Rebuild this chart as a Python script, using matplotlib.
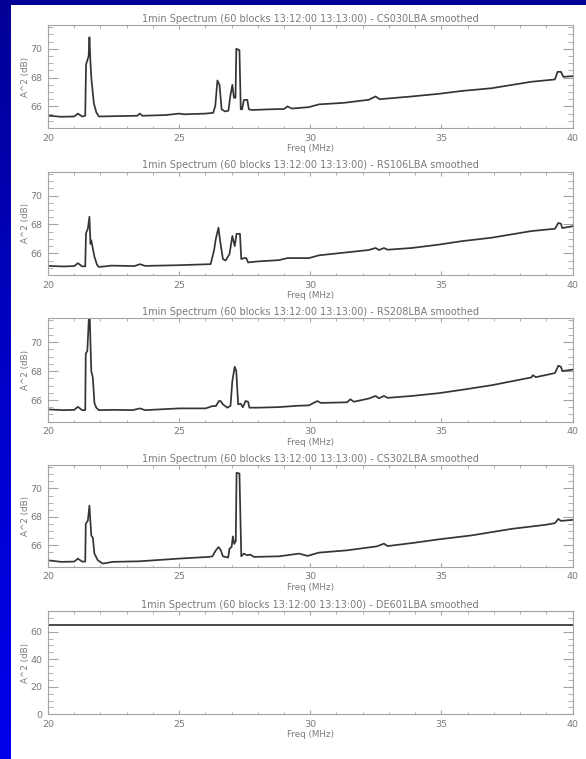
"""Five LOFAR LBA station spectra, 1 min average, smoothed."""

import matplotlib
matplotlib.use("Agg")
import matplotlib.pyplot as plt
import numpy as np
from matplotlib.ticker import MultipleLocator

# ---- data ------------------------------------------------------------------
stations = ["CS030LBA", "RS106LBA", "RS208LBA", "CS302LBA", "DE601LBA"]

cs030_freq = [20.0, 20.5, 21.0, 21.14, 21.3, 21.42, 21.45, 21.55, 21.58, 21.62,
              21.66, 21.75, 21.84, 21.94, 22.5, 23.4, 23.5, 23.6, 24.5, 25.0,
              25.2, 26.0, 26.3, 26.38, 26.46, 26.54, 26.62, 26.75, 26.88, 26.95,
              27.03, 27.09, 27.15, 27.18, 27.3, 27.35, 27.4, 27.47, 27.6, 27.66,
              27.78, 28.5, 29.0, 29.13, 29.3, 29.95, 30.33, 31.3, 32.23, 32.49,
              32.65, 33.87, 34.89, 35.77, 36.91, 38.43, 39.33, 39.43, 39.56, 39.65,
              40.0]
cs030_db = [65.36, 65.28, 65.3, 65.5, 65.3, 65.35, 68.9, 69.5, 70.8, 69.0,
            67.8, 66.2, 65.6, 65.3, 65.32, 65.35, 65.5, 65.35, 65.4, 65.5,
            65.45, 65.5, 65.55, 66.05, 67.8, 67.5, 65.8, 65.65, 65.7, 66.7,
            67.5, 66.6, 66.6, 70.0, 69.9, 65.8, 65.8, 66.45, 66.45, 65.8,
            65.75, 65.8, 65.82, 66.0, 65.85, 65.95, 66.14, 66.25, 66.46, 66.69,
            66.5, 66.69, 66.87, 67.07, 67.26, 67.71, 67.87, 68.4, 68.4, 68.05,
            68.1]

rs106_freq = [20.0, 20.6, 21.0, 21.14, 21.3, 21.42, 21.45, 21.52, 21.58, 21.62,
              21.65, 21.77, 21.87, 21.94, 22.2, 22.4, 23.3, 23.5, 23.7, 25.0,
              26.2, 26.33, 26.4, 26.5, 26.56, 26.67, 26.77, 26.92, 27.03, 27.12,
              27.19, 27.32, 27.37, 27.47, 27.56, 27.63, 28.0, 28.81, 29.13, 29.95,
              30.33, 32.23, 32.49, 32.62, 32.81, 32.95, 33.87, 34.89, 35.77, 36.91,
              38.43, 39.33, 39.46, 39.56, 39.61, 40.0]
rs106_db = [65.13, 65.09, 65.12, 65.32, 65.1, 65.1, 67.4, 67.7, 68.53, 66.65,
            66.9, 65.77, 65.2, 65.06, 65.1, 65.15, 65.12, 65.25, 65.13, 65.18,
            65.25, 66.19, 67.0, 67.78, 66.9, 65.6, 65.5, 65.95, 67.2, 66.5,
            67.35, 67.35, 65.6, 65.67, 65.67, 65.37, 65.44, 65.53, 65.67, 65.67,
            65.86, 66.23, 66.37, 66.23, 66.37, 66.25, 66.37, 66.6, 66.84, 67.08,
            67.54, 67.7, 68.1, 68.05, 67.75, 67.87]

rs208_freq = [20.0, 20.6, 21.0, 21.14, 21.3, 21.42, 21.44, 21.5, 21.58, 21.65,
              21.71, 21.77, 21.84, 21.94, 22.5, 23.23, 23.5, 23.7, 25.0, 26.01,
              26.27, 26.4, 26.52, 26.58, 26.67, 26.84, 26.96, 27.03, 27.12, 27.18,
              27.25, 27.35, 27.43, 27.53, 27.63, 27.68, 28.0, 28.81, 29.5, 29.95,
              30.27, 30.4, 31.4, 31.53, 31.66, 32.23, 32.49, 32.62, 32.81, 32.95,
              33.87, 34.89, 35.77, 36.91, 38.43, 38.49, 38.6, 39.33, 39.46, 39.56,
              39.61, 40.0]
rs208_db = [65.35, 65.3, 65.32, 65.53, 65.3, 65.3, 69.2, 69.4, 72.5, 68.0,
            67.55, 65.8, 65.47, 65.3, 65.32, 65.3, 65.42, 65.3, 65.42, 65.42,
            65.58, 65.58, 65.93, 65.93, 65.7, 65.47, 65.6, 67.33, 68.3, 68.0,
            65.7, 65.74, 65.5, 65.93, 65.88, 65.47, 65.47, 65.51, 65.6, 65.63,
            65.93, 65.8, 65.84, 66.05, 65.88, 66.1, 66.28, 66.12, 66.28, 66.15,
            66.28, 66.47, 66.7, 67.02, 67.56, 67.72, 67.58, 67.86, 68.37, 68.3,
            68.0, 68.1]

cs302_freq = [20.0, 20.5, 21.0, 21.14, 21.3, 21.42, 21.44, 21.52, 21.58, 21.65,
              21.71, 21.77, 21.9, 22.09, 22.47, 23.48, 25.0, 26.14, 26.27, 26.4,
              26.5, 26.58, 26.67, 26.87, 26.92, 27.0, 27.05, 27.1, 27.16, 27.19,
              27.3, 27.37, 27.47, 27.6, 27.72, 27.85, 28.81, 29.57, 29.9, 30.33,
              31.4, 32.54, 32.81, 32.95, 33.87, 34.89, 36.15, 37.68, 38.95, 39.33,
              39.46, 39.56, 40.0]
cs302_db = [64.95, 64.84, 64.86, 65.07, 64.86, 64.86, 67.51, 67.74, 68.79, 66.7,
            66.53, 65.42, 64.95, 64.72, 64.84, 64.88, 65.07, 65.19, 65.23, 65.65,
            65.88, 65.7, 65.23, 65.14, 65.77, 65.88, 66.63, 66.1, 66.3, 71.1,
            71.05, 65.23, 65.42, 65.3, 65.35, 65.19, 65.23, 65.42, 65.26, 65.49,
            65.65, 65.93, 66.12, 65.95, 66.16, 66.42, 66.7, 67.16, 67.44, 67.56,
            67.86, 67.72, 67.79]

de601_freq = [20.0, 40.0]
de601_db = [65.0, 65.0]

spectra = [(cs030_freq, cs030_db), (rs106_freq, rs106_db),
           (rs208_freq, rs208_db), (cs302_freq, cs302_db),
           (de601_freq, de601_db)]

title_fmt = "1min Spectrum (60 blocks 13:12:00 13:13:00) - {} smoothed"

# ---- figure ----------------------------------------------------------------
W, H = 586, 759
fig = plt.figure(figsize=(W / 100, H / 100), dpi=100)
fig.patch.set_facecolor("white")

# blue slide frame: dark strip on top, gradient strip on the left
bg = fig.add_axes([0, 0, 1, 1], zorder=-10)
bg.set_axis_off()
bg.set_xlim(0, W)
bg.set_ylim(H, 0)
grad = np.linspace(0, 1, 256).reshape(-1, 1)
cmap = matplotlib.colors.LinearSegmentedColormap.from_list(
    "slide", ["#000096", "#0000c8", "#0000ec"])
bg.imshow(grad, cmap=cmap, extent=(0, 11, H, 0), aspect="auto")
bg.add_patch(plt.Rectangle((0, 0), W, 5, color="#000096", lw=0))

# panel boxes in pixels (top, bottom)
left_px, right_px = 48, 572.5
boxes = [(25, 128), (171.7, 275), (318.3, 421.7), (465, 566.7), (611, 714.3)]

axis_col = "#a4a4a4"
text_col = "#7a7a7a"

for i, ((freq, db), (top, bot)) in enumerate(zip(spectra, boxes)):
    ax = fig.add_axes([left_px / W, 1 - bot / H,
                       (right_px - left_px) / W, (bot - top) / H])
    ax.plot(freq, db, color="#353535", lw=1.25)

    ax.set_xlim(20, 40)
    ax.xaxis.set_major_locator(MultipleLocator(5))
    ax.xaxis.set_minor_locator(MultipleLocator(1))
    if i < 4:
        ax.set_ylim(64.5, 71.65)
        ax.yaxis.set_major_locator(MultipleLocator(2))
        ax.yaxis.set_minor_locator(MultipleLocator(0.5))
    else:
        ax.set_ylim(0, 75)
        ax.yaxis.set_major_locator(MultipleLocator(20))
        ax.yaxis.set_minor_locator(MultipleLocator(5))

    for sp in ax.spines.values():
        sp.set_color(axis_col)
        sp.set_linewidth(0.8)
    ax.tick_params(axis="both", which="both", direction="in",
                   top=True, right=True, color=axis_col,
                   labelcolor=text_col, labelsize=6.8)
    ax.tick_params(axis="y", which="major", length=7.5, pad=4)
    ax.tick_params(axis="y", which="minor", length=3.8)
    ax.tick_params(axis="x", which="major", length=3, pad=4)
    ax.tick_params(axis="x", which="minor", length=1.8)

    ax.set_title(title_fmt.format(stations[i]), fontsize=7, color=text_col,
                 pad=2.5)
    ax.set_xlabel("Freq (MHz)", fontsize=6.3, color=text_col, labelpad=1)
    ax.set_ylabel("A^2 (dB)", fontsize=6.3, color=text_col, labelpad=0.5)

fig.savefig("out.png", dpi=100, facecolor="white")
